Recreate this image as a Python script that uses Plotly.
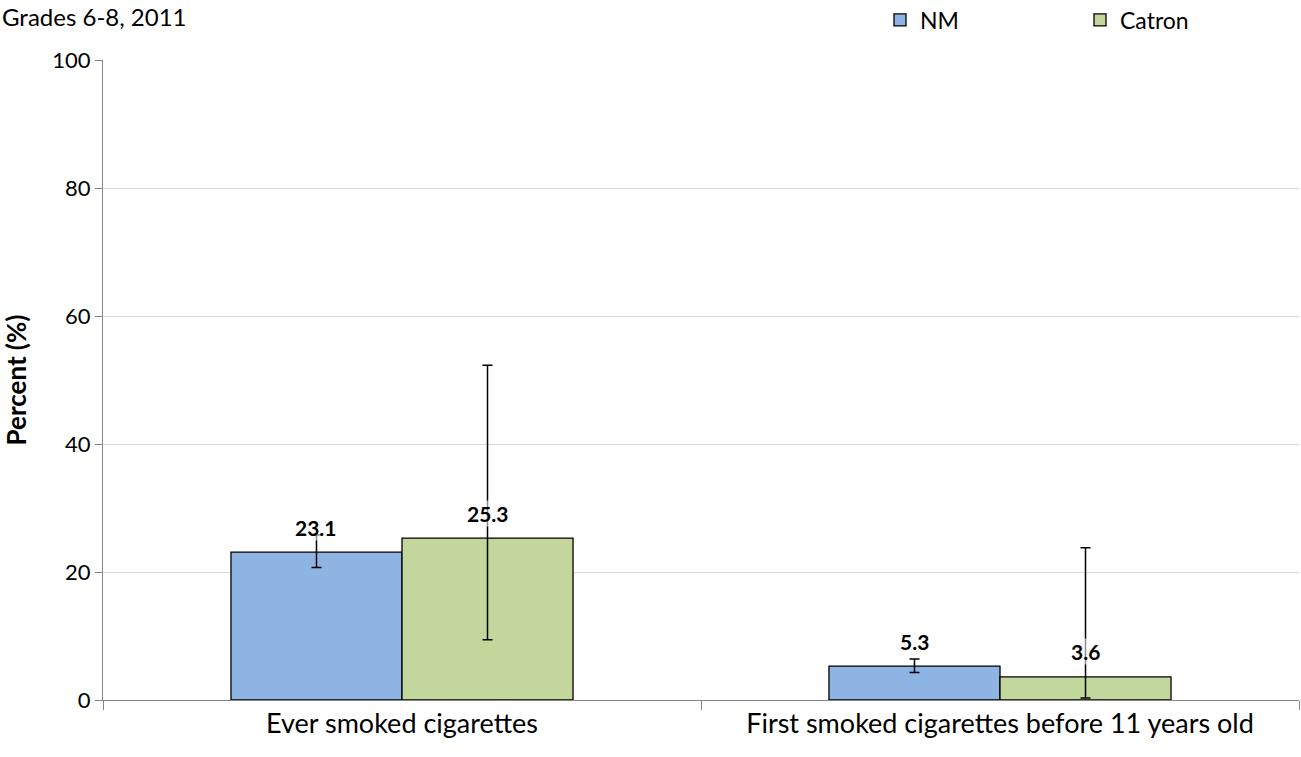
import plotly.graph_objects as go

categories = ["Ever smoked cigarettes", "First smoked cigarettes before 11 years old"]
nm_values = [23.1, 5.3]
nm_upper = [25.8, 6.4]
nm_lower = [20.7, 4.3]
catron_values = [25.3, 3.6]
catron_upper = [52.3, 23.8]
catron_lower = [9.4, 0.3]
y_ticks = [0, 20, 40, 60, 80, 100]

FONT = "Lato, 'Open Sans', sans-serif"
BARGAP = 0.428

def err(vals, up, lo):
    return dict(type="data", symmetric=False,
                array=[u - v for u, v in zip(up, vals)],
                arrayminus=[v - l for v, l in zip(vals, lo)],
                color="black", thickness=1.5, width=5)

fig = go.Figure()
fig.add_trace(go.Bar(name="NM", x=categories, y=nm_values,
                     marker=dict(color="#8eb4e3", line=dict(color="black", width=1.3)),
                     error_y=err(nm_values, nm_upper, nm_lower)))
fig.add_trace(go.Bar(name="Catron", x=categories, y=catron_values,
                     marker=dict(color="#c3d69b", line=dict(color="black", width=1.3)),
                     error_y=err(catron_values, catron_upper, catron_lower)))

half = (1 - BARGAP) / 4
for i, c in enumerate(categories):
    for vals, off in ((nm_values, -half), (catron_values, half)):
        fig.add_annotation(x=i + off, y=vals[i], xref="x", yref="y",
                           text=f"<b>{vals[i]}</b>", showarrow=False,
                           yshift=25, font=dict(size=21, color="black", family=FONT),
                           bgcolor="rgba(255,255,255,0.55)", borderpad=0)

PW = 1196
fig.add_annotation(text="Grades 6-8, 2011", xref="paper", yref="paper",
                   x=-103 / PW, y=700 / 640, xanchor="left", yanchor="top",
                   showarrow=False, font=dict(size=24, color="black", family=FONT))

fig.update_layout(
    width=1301, height=757,
    margin=dict(l=103, r=2, t=60, b=57, autoexpand=False),
    paper_bgcolor="white", plot_bgcolor="white",
    barmode="group", bargap=BARGAP, bargroupgap=0,
    font=dict(family=FONT, color="black"),
    showlegend=True,
    legend=dict(orientation="h", x=(880 - 103) / PW, y=680 / 640, xanchor="left", yanchor="middle",
                font=dict(size=23, family=FONT), entrywidth=155, itemwidth=30,
                traceorder="normal", bgcolor="rgba(0,0,0,0)"),
    xaxis=dict(tickfont=dict(size=27, family=FONT), showline=True, linecolor="#868686",
               linewidth=1, ticks="outside", tickson="boundaries", ticklen=9,
               tickcolor="#868686", showgrid=False),
    yaxis=dict(range=[0, 100], tickvals=y_ticks, tickfont=dict(size=22, family=FONT),
               showline=True, linecolor="#868686", linewidth=1, ticks="outside",
               ticklen=7, tickcolor="#868686", gridcolor="#d9d9d9", gridwidth=1,
               zeroline=False,
               title=dict(text="<b>Percent (%)</b>", font=dict(size=26, family=FONT), standoff=20)),
)

fig.write_html("out.html", config={"displayModeBar": False},
               post_script="document.body.style.margin='0';document.body.style.overflow='hidden';")
